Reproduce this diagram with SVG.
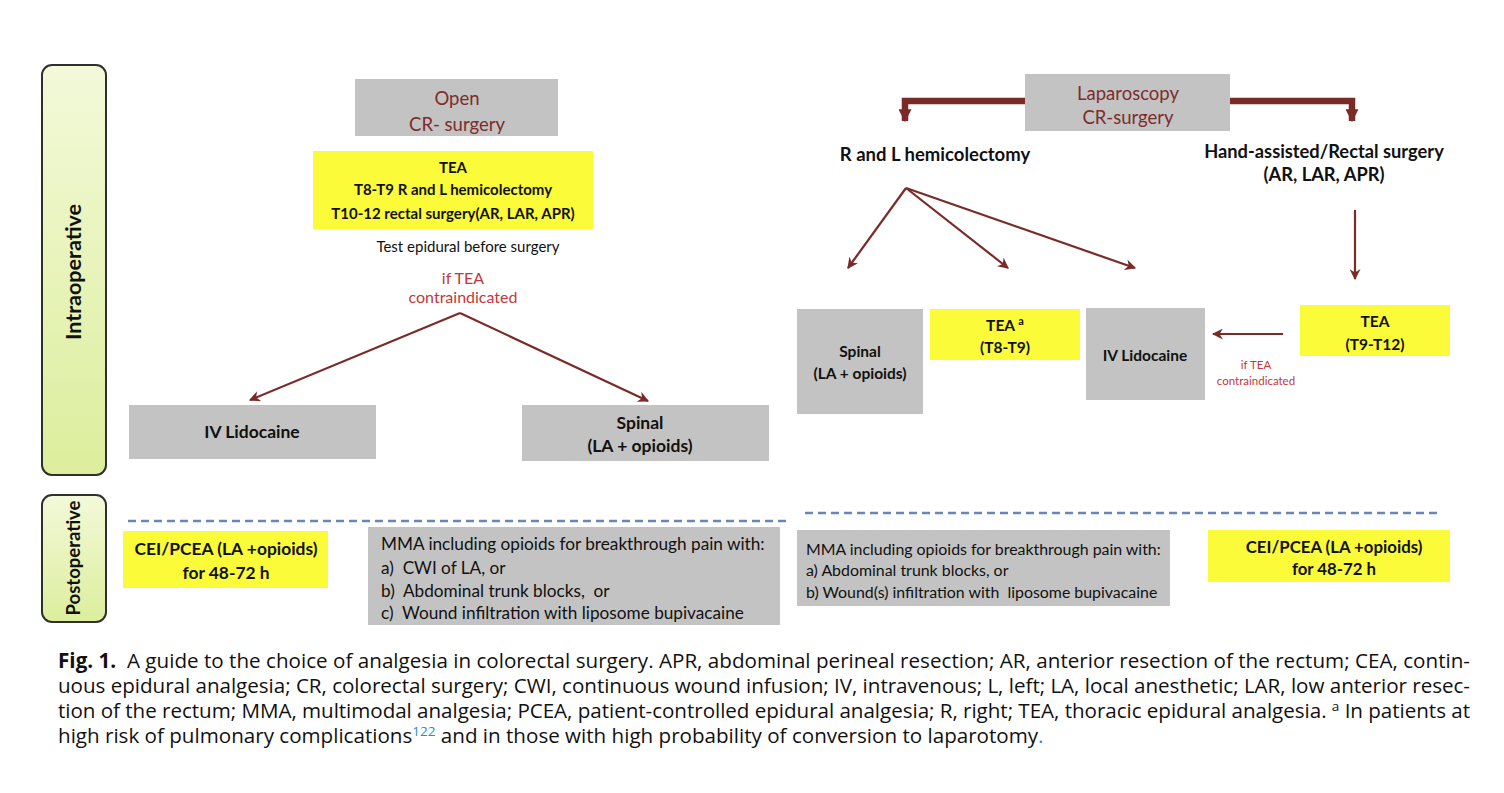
<svg xmlns="http://www.w3.org/2000/svg" width="1504" height="793" viewBox="0 0 1504 793">
  <defs>
    <linearGradient id="phaseFill" x1="0" y1="0" x2="0" y2="1">
      <stop offset="0" stop-color="#f3f9d9"/>
      <stop offset="1" stop-color="#dcee9c"/>
    </linearGradient>
    <marker id="arrowHead" viewBox="0 0 10 10" refX="9" refY="5" markerWidth="5" markerHeight="5" orient="auto" markerUnits="strokeWidth">
      <path d="M0,0 L10,5 L0,10 L3,5 Z" fill="#7a2b28"/>
    </marker>
    <marker id="blockHead" viewBox="0 0 10 10" refX="5" refY="9" markerWidth="2" markerHeight="2" orient="0" markerUnits="strokeWidth">
      <path d="M0,0 L10,0 L5,10 Z" fill="#7a2b28"/>
    </marker>
    <style>
      .phase { fill: url(#phaseFill); stroke: #2f2f2f; stroke-width: 2; }
      .phaseLabel { font-family: "Lato", "Open Sans", sans-serif; font-weight: bold; fill: #111; text-anchor: middle; }
      .gray { fill: #c3c3c3; }
      .yellow { fill: #fbfb3a; }
      .t { font-family: "Lato", "Open Sans", sans-serif; fill: #111; }
      .b { font-weight: bold; }
      .c { text-anchor: middle; }
      .head { font-family: "Lato", "Open Sans", sans-serif; fill: #7e2c2c; text-anchor: middle; }
      .warn { font-family: "Lato", "Open Sans", sans-serif; fill: #c2383a; text-anchor: middle; }
      .link { fill: none; stroke: #7a2b28; stroke-width: 2.2; }
      .bracket { fill: none; stroke: #7a2b28; stroke-width: 6.5; }
      .sep { stroke: #6a86b9; stroke-width: 2.5; stroke-dasharray: 8 5; }
      .cap { font-family: "Open Sans", "Noto Sans", sans-serif; font-size: 20.6px; fill: #111; }
      .ref { fill: #2b8bc9; }
    </style>
  </defs>

  <rect width="1504" height="793" fill="#ffffff"/>

  <!-- phase bars -->
  <g id="phase-intraoperative">
    <rect class="phase" x="42" y="65" width="64" height="410" rx="10"/>
    <text class="phaseLabel" font-size="21.5" transform="translate(81,272) rotate(-90)">Intraoperative</text>
  </g>
  <g id="phase-postoperative">
    <rect class="phase" x="42" y="495" width="64" height="127" rx="10"/>
    <text class="phaseLabel" font-size="18.5" transform="translate(80,558) rotate(-90)">Postoperative</text>
  </g>

  <!-- open surgery branch -->
  <g id="open-surgery">
    <rect class="gray" x="355" y="79" width="203" height="57"/>
    <text class="head" font-size="18.5" x="457" y="105">Open</text>
    <text class="head" font-size="18.5" x="457" y="131">CR- surgery</text>
  </g>
  <g id="open-tea">
    <rect class="yellow" x="313" y="151" width="280" height="78"/>
    <text class="t b c" font-size="15" x="453" y="173">TEA</text>
    <text class="t b c" font-size="15" x="453" y="195">T8-T9 R and L hemicolectomy</text>
    <text class="t b c" font-size="15" x="453" y="219">T10-12 rectal surgery(AR, LAR, APR)</text>
  </g>
  <g id="open-test">
    <text class="t c" font-size="15" x="468" y="252">Test epidural before surgery</text>
  </g>
  <g id="open-contra">
    <text class="warn" x="463" y="284" font-size="16">if TEA</text>
    <text class="warn" x="463" y="303" font-size="16">contraindicated</text>
  </g>
  <g id="open-iv-lidocaine">
    <rect class="gray" x="129" y="405" width="247" height="54"/>
    <text class="t b c" x="252" y="438" font-size="17.5">IV Lidocaine</text>
  </g>
  <g id="open-spinal">
    <rect class="gray" x="522" y="405" width="247" height="56"/>
    <text class="t b c" x="640" y="429" font-size="17.5">Spinal</text>
    <text class="t b c" x="640" y="452" font-size="17.5">(LA + opioids)</text>
  </g>

  <!-- laparoscopic branch -->
  <g id="lap-surgery">
    <rect class="gray" x="1025" y="74" width="205" height="57"/>
    <text class="head" font-size="18.5" x="1128" y="100">Laparoscopy</text>
    <text class="head" font-size="18.5" x="1128" y="124">CR-surgery</text>
  </g>
  <g id="lap-hemicolectomy">
    <text class="t b c" x="935" y="161" font-size="18.5">R and L hemicolectomy</text>
  </g>
  <g id="lap-rectal">
    <text class="t b c" x="1324" y="158" font-size="18.3">Hand-assisted/Rectal surgery</text>
    <text class="t b c" x="1324" y="181" font-size="18.3">(AR, LAR, APR)</text>
  </g>
  <g id="lap-spinal">
    <rect class="gray" x="797" y="309" width="126" height="105"/>
    <text class="t b c" font-size="15.5" x="860" y="357">Spinal</text>
    <text class="t b c" font-size="15.5" x="860" y="379">(LA + opioids)</text>
  </g>
  <g id="lap-tea-t8">
    <rect class="yellow" x="930" y="309" width="150" height="51"/>
    <text class="t b c" font-size="15.5" x="1005" y="331">TEA <tspan font-size="11" dy="-6">a</tspan></text>
    <text class="t b c" font-size="15.5" x="1005" y="353">(T8-T9)</text>
  </g>
  <g id="lap-iv-lidocaine">
    <rect class="gray" x="1086" y="308" width="119" height="92"/>
    <text class="t b c" font-size="15.5" x="1145" y="361">IV Lidocaine</text>
  </g>
  <g id="lap-tea-t9">
    <rect class="yellow" x="1300" y="305" width="150" height="51"/>
    <text class="t b c" font-size="15.5" x="1375" y="327">TEA</text>
    <text class="t b c" font-size="15.5" x="1375" y="350">(T9-T12)</text>
  </g>
  <g id="lap-contra">
    <text class="warn" x="1256" y="369" font-size="11.5">if TEA</text>
    <text class="warn" x="1256" y="385" font-size="11.5">contraindicated</text>
  </g>

  <!-- postoperative options -->
  <g id="post-open-cei">
    <rect class="yellow" x="123" y="531" width="205" height="57"/>
    <text class="t b c" x="226" y="555" font-size="17.4">CEI/PCEA (LA +opioids)</text>
    <text class="t b c" x="226" y="579" font-size="17.4">for 48-72 h</text>
  </g>
  <g id="post-open-mma">
    <rect class="gray" x="368" y="527" width="412" height="98"/>
    <text class="t" x="381" y="550" font-size="17.2">MMA including opioids for breakthrough pain with:</text>
    <text class="t" x="381" y="574" font-size="17.2" xml:space="preserve">a)  CWI of LA, or</text>
    <text class="t" x="381" y="597" font-size="17.2" xml:space="preserve">b)  Abdominal trunk blocks,  or</text>
    <text class="t" x="381" y="619" font-size="17.2" xml:space="preserve">c)  Wound infiltration with liposome bupivacaine</text>
  </g>
  <g id="post-lap-mma">
    <rect class="gray" x="797" y="530" width="373" height="76"/>
    <text class="t" x="806" y="555" font-size="15.9">MMA including opioids for breakthrough pain with:</text>
    <text class="t" x="806" y="576" font-size="15.9">a) Abdominal trunk blocks, or</text>
    <text class="t" x="806" y="598" font-size="15.9" xml:space="preserve">b) Wound(s) infiltration with  liposome bupivacaine</text>
  </g>
  <g id="post-lap-cei">
    <rect class="yellow" x="1208" y="530" width="242" height="52"/>
    <text class="t b c" x="1334" y="553" font-size="16.8">CEI/PCEA (LA +opioids)</text>
    <text class="t b c" x="1334" y="575" font-size="16.8">for 48-72 h</text>
  </g>

  <!-- connectors -->
  <g id="connectors">
    <line class="link" x1="460" y1="313" x2="250" y2="400" marker-end="url(#arrowHead)"/>
    <line class="link" x1="460" y1="313" x2="648" y2="401" marker-end="url(#arrowHead)"/>
    <polyline class="bracket" points="1025,101 905,101 905,121" marker-end="url(#blockHead)"/>
    <polyline class="bracket" points="1230,101 1352,101 1352,121" marker-end="url(#blockHead)"/>
    <line class="link" x1="906" y1="188" x2="848" y2="268" marker-end="url(#arrowHead)"/>
    <line class="link" x1="906" y1="188" x2="1008" y2="268" marker-end="url(#arrowHead)"/>
    <line class="link" x1="906" y1="188" x2="1135" y2="268" marker-end="url(#arrowHead)"/>
    <line class="link" x1="1355" y1="210" x2="1355" y2="279" stroke-width="1.6" marker-end="url(#arrowHead)"/>
    <line class="link" x1="1283" y1="334" x2="1213" y2="334" stroke-width="2.6" marker-end="url(#arrowHead)"/>
  </g>

  <!-- phase separators -->
  <g id="separators">
    <line class="sep" x1="128" y1="521" x2="790" y2="521"/>
    <line class="sep" x1="805" y1="513" x2="1440" y2="513"/>
  </g>

  <!-- figure caption -->
  <g id="caption">
    <text class="cap" x="58" y="668" textLength="1412" lengthAdjust="spacing"><tspan font-weight="bold">Fig. 1.</tspan>&#160; A guide to the choice of analgesia in colorectal surgery. APR, abdominal perineal resection; AR, anterior resection of the rectum; CEA, contin-</text>
    <text class="cap" x="58" y="693" textLength="1412" lengthAdjust="spacing">uous epidural analgesia; CR, colorectal surgery; CWI, continuous wound infusion; IV, intravenous; L, left; LA, local anesthetic; LAR, low anterior resec-</text>
    <text class="cap" x="58" y="718" textLength="1412" lengthAdjust="spacing">tion of the rectum; MMA, multimodal analgesia; PCEA, patient-controlled epidural analgesia; R, right; TEA, thoracic epidural analgesia. <tspan font-size="13.5" dy="-7">a</tspan><tspan dy="7"> In patients at</tspan></text>
    <text class="cap" x="58" y="743">high risk of pulmonary complications<tspan class="ref" font-size="13.5" dy="-7">122</tspan><tspan dy="7"> and in those with high probability of conversion to laparotomy</tspan><tspan class="ref">.</tspan></text>
  </g>
</svg>
